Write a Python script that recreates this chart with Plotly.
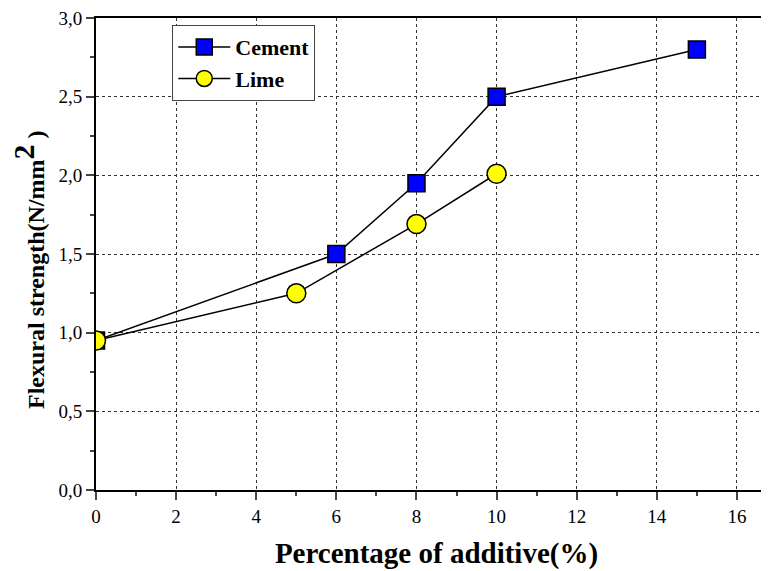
import plotly.graph_objects as go

cement_x = [0, 6, 8, 10, 15]
cement_y = [0.95, 1.50, 1.95, 2.50, 2.80]
lime_x = [0, 5, 8, 10]
lime_y = [0.95, 1.25, 1.69, 2.01]

x_ticks = [0, 2, 4, 6, 8, 10, 12, 14, 16]
y_ticks = [0.0, 0.5, 1.0, 1.5, 2.0, 2.5, 3.0]

fig = go.Figure()
fig.add_trace(go.Scatter(
    x=cement_x, y=cement_y, name="Cement", mode="lines+markers",
    line=dict(color="black", width=1.5),
    marker=dict(symbol="square", size=17, color="#0000FF", line=dict(color="black", width=1.5)),
))
fig.add_trace(go.Scatter(
    x=lime_x, y=lime_y, name="Lime", mode="lines+markers",
    line=dict(color="black", width=1.5),
    marker=dict(symbol="circle", size=19, color="#FFFF00", line=dict(color="black", width=1.5)),
))

serif = "Liberation Serif"
fig.update_layout(
    width=769, height=571,
    margin=dict(l=88, r=0, t=8, b=89),
    paper_bgcolor="white", plot_bgcolor="white",
    separators=",.",
    font=dict(family=serif, color="black", size=19),
    showlegend=True,
    legend=dict(
        x=0.112, y=0.985, xanchor="left", yanchor="top",
        bgcolor="white", bordercolor="#444", borderwidth=1,
        font=dict(family=serif, size=22, color="black", weight="bold"),
        itemwidth=52, tracegroupgap=0,
    ),
    annotations=[dict(
        text="Flexural strength(N/mm<sup><span style=\"font-size:30px\">2</span></sup> )",
        xref="paper", yref="paper", x=-0.1, y=0.468,
        xanchor="center", yanchor="middle", textangle=-90, showarrow=False,
        font=dict(family=serif, size=24, color="black", weight="bold"),
    )],
)
fig.update_xaxes(
    range=[0, 17], tickvals=x_ticks, ticks="outside", ticklen=8, tickwidth=1.5,
    minor=dict(dtick=1, ticks="outside", ticklen=4, tickwidth=1.5, showgrid=False),
    showline=True, linecolor="black", linewidth=2, mirror=True,
    showgrid=True, gridcolor="#333", griddash="dot", gridwidth=1,
    zeroline=False, ticklabeloverflow="allow",
    tickfont=dict(family=serif, size=19),
    title=dict(text="Percentage of additive(%)", standoff=17,
               font=dict(family=serif, size=29, weight="bold")),
)
fig.update_yaxes(
    range=[0, 3.0], tickvals=y_ticks, tickformat=".1f", ticks="outside", ticklen=8, tickwidth=1.5,
    minor=dict(dtick=0.25, ticks="outside", ticklen=4, tickwidth=1.5, showgrid=False),
    showline=True, linecolor="black", linewidth=2,
    showgrid=True, gridcolor="#333", griddash="dot", gridwidth=1,
    zeroline=False, ticklabeloverflow="allow",
    tickfont=dict(family=serif, size=19),
)
fig.write_html("out.html")
